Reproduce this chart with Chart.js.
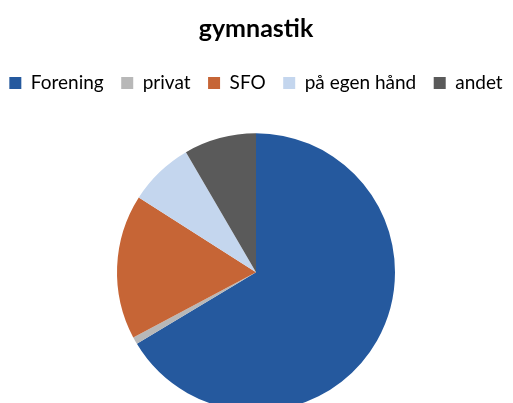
<!DOCTYPE html>
<html>
<head>
<meta charset="utf-8">
<script src="https://cdn.jsdelivr.net/npm/chart.js@4/dist/chart.umd.min.js"></script>
<style>
  html, body { margin: 0; padding: 0; background: #fff; overflow: hidden; }
  /* canvas a bit wider than the window so the legend fits on one row */
  #wrap { width: 560px; height: 442px; position: relative; margin-left: -24px; }
</style>
</head>
<body>
<div id="wrap"><canvas id="pieChart"></canvas></div>
<script>
  const categories = ['Forening', 'privat', 'SFO', 'på egen hånd', 'andet'];
  const counts = [79, 1, 20, 9, 10];
  const colors = ['#25599E', '#B8B8B8', '#C66536', '#C4D6EE', '#5A5A5A'];

  const ctx = document.getElementById('pieChart').getContext('2d');
  new Chart(ctx, {
    type: 'pie',
    data: {
      labels: categories,
      datasets: [{
        data: counts,
        backgroundColor: colors,
        borderWidth: 0,
        radius: 139
      }]
    },
    options: {
      responsive: true,
      maintainAspectRatio: false,
      animation: false,
      plugins: {
        title: {
          display: true,
          text: 'gymnastik',
          color: '#000',
          font: { family: 'Lato', size: 25, weight: 'bold' },
          padding: { top: 13.5, bottom: 12.5 }
        },
        legend: {
          position: 'top',
          labels: {
            color: '#000',
            font: { family: 'Lato', size: 19 },
            boxWidth: 12,
            boxHeight: 12,
            padding: 17.5
          }
        },
        tooltip: { enabled: false }
      }
    }
  });
</script>
</body>
</html>
